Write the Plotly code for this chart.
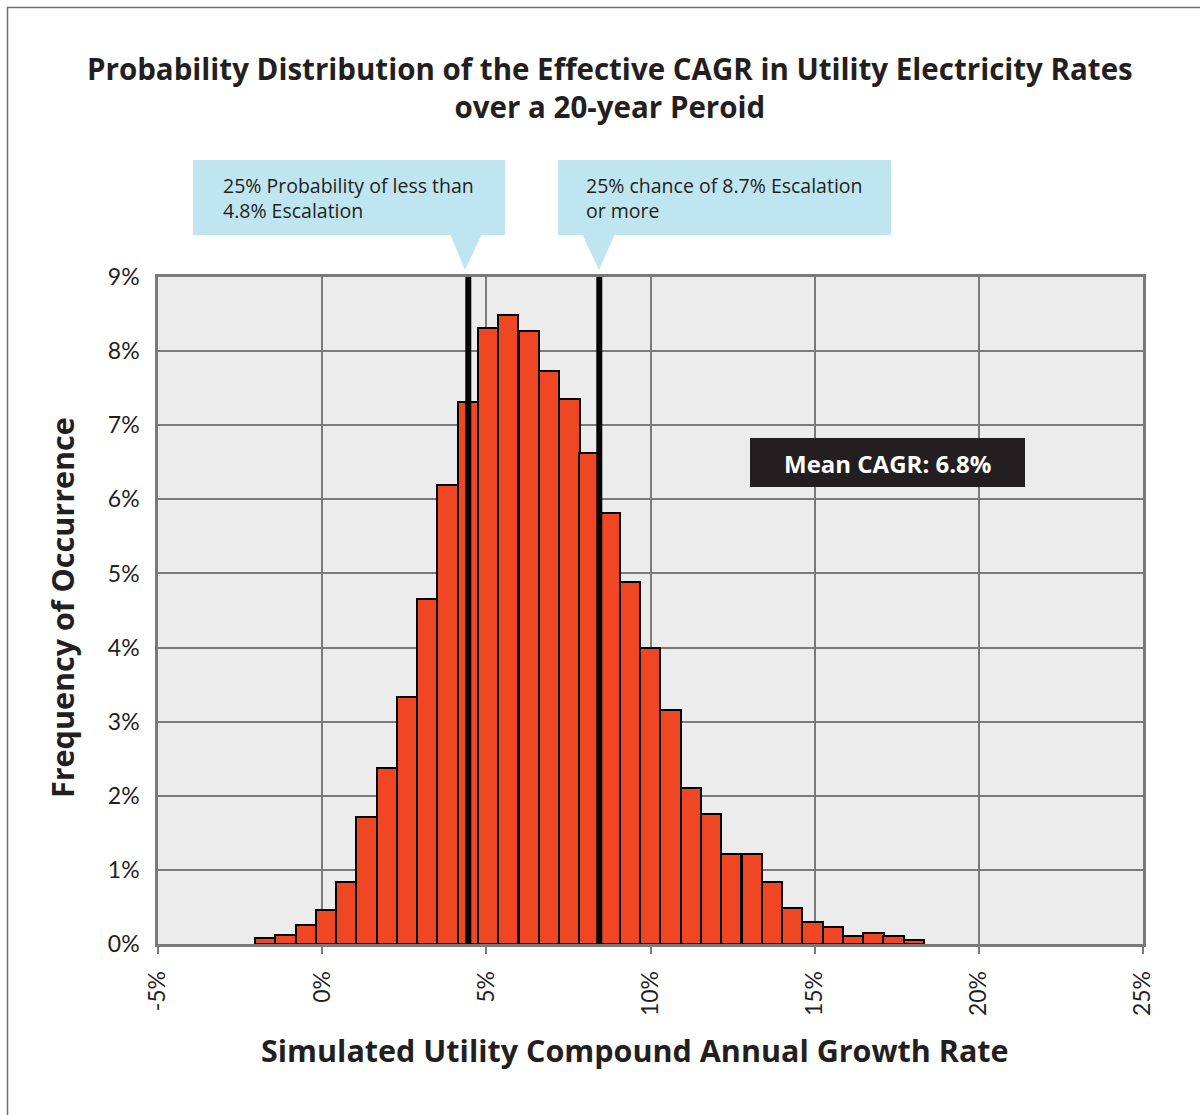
import plotly.graph_objects as go

# ---------------- data ----------------
bin_centers = [-1.74, -1.12, -0.50, 0.12, 0.73, 1.35, 1.97, 2.59, 3.20, 3.82,
               4.44, 5.06, 5.67, 6.29, 6.91, 7.53, 8.14, 8.76, 9.38, 9.99,
               10.61, 11.23, 11.85, 12.46, 13.08, 13.70, 14.32, 14.93, 15.55,
               16.17, 16.79, 17.40, 18.02]
frequency_pct = [0.08, 0.12, 0.26, 0.46, 0.83, 1.72, 2.38, 3.33, 4.66, 6.19,
                 7.31, 8.31, 8.49, 8.27, 7.73, 7.35, 6.63, 5.82, 4.89, 3.99,
                 3.16, 2.10, 1.75, 1.22, 1.22, 0.83, 0.48, 0.30, 0.23, 0.11,
                 0.15, 0.11, 0.05]
bin_width = 0.617
quartile_lines = [4.45, 8.44]   # drawn 25th / 75th percentile markers
x_tickvals = [-5, 0, 5, 10, 15, 20, 25]
x_ticktext = ["-5%", "0%", "5%", "10%", "15%", "20%", "25%"]
y_tickvals = [0, 1, 2, 3, 4, 5, 6, 7, 8, 9]
y_ticktext = ["0%", "1%", "2%", "3%", "4%", "5%", "6%", "7%", "8%", "9%"]

title_lines = ["Probability Distribution of the Effective CAGR in Utility Electricity Rates",
               "over a 20-year Peroid"]
callout_low = ["25% Probability of less than", "4.8% Escalation"]
callout_high = ["25% chance of 8.7% Escalation", "or more"]
mean_label = "Mean CAGR: 6.8%"
x_title = "Simulated Utility Compound Annual Growth Rate"
y_title = "Frequency of Occurrence"

# ---------------- layout geometry ----------------
W, H = 1200, 1115
L, R, T, B = 158, 1143, 277, 944
def px(xp):
    return (xp - L) / (R - L)
def py(yp):
    return (B - yp) / (B - T)

TXT = "#231f20"
GRID = "#7a7a7a"
BLUE = "#bfe5f0"
BOLD_FONT = "Open Sans"

fig = go.Figure()
fig.add_trace(go.Bar(
    x=bin_centers, y=frequency_pct, width=bin_width,
    marker=dict(color="#ef4623", line=dict(color="#000000", width=2)),
    hoverinfo="x+y", showlegend=False,
))

shapes = []
for q in quartile_lines:
    shapes.append(dict(type="line", xref="x", yref="y", x0=q, x1=q, y0=0, y1=9,
                       line=dict(color="#050505", width=6), layer="above"))
shapes.append(dict(type="rect", xref="paper", yref="paper",
                   x0=px(193), x1=px(505), y0=py(235), y1=py(160),
                   fillcolor=BLUE, line=dict(width=0)))
shapes.append(dict(type="path", xref="paper", yref="paper",
                   path=f"M {px(450)} {py(234)} L {px(482)} {py(234)} L {px(465)} {py(270)} Z",
                   fillcolor=BLUE, line=dict(width=0)))
shapes.append(dict(type="rect", xref="paper", yref="paper",
                   x0=px(558), x1=px(891), y0=py(235), y1=py(160),
                   fillcolor=BLUE, line=dict(width=0)))
shapes.append(dict(type="path", xref="paper", yref="paper",
                   path=f"M {px(582)} {py(234)} L {px(615)} {py(234)} L {px(599)} {py(270)} Z",
                   fillcolor=BLUE, line=dict(width=0)))
shapes.append(dict(type="rect", xref="paper", yref="paper",
                   x0=px(750), x1=px(1025), y0=py(487), y1=py(438),
                   fillcolor="#231f20", line=dict(width=0)))
shapes.append(dict(type="path", xref="paper", yref="paper",
                   path=f"M {px(7.5)} {py(1120)} L {px(7.5)} {py(7.5)} L {px(1205)} {py(7.5)}",
                   line=dict(color="#6d6e70", width=1.5)))

annotations = []
annotations.append(dict(xref="paper", yref="paper", x=px(610), y=py(87),
                        xanchor="center", yanchor="middle", showarrow=False,
                        text="<br>".join(title_lines),
                        font=dict(family=BOLD_FONT, size=29.5, color=TXT, weight="bold")))
annotations.append(dict(xref="paper", yref="paper", x=px(221), y=py(198),
                        xanchor="left", yanchor="middle", showarrow=False, align="left",
                        text="<br>".join(callout_low),
                        font=dict(family="Open Sans", size=19.5, color=TXT)))
annotations.append(dict(xref="paper", yref="paper", x=px(584), y=py(198),
                        xanchor="left", yanchor="middle", showarrow=False, align="left",
                        text="<br>".join(callout_high),
                        font=dict(family="Open Sans", size=19.5, color=TXT)))
annotations.append(dict(xref="paper", yref="paper", x=px(887), y=py(463),
                        xanchor="center", yanchor="middle", showarrow=False,
                        text=mean_label,
                        font=dict(family=BOLD_FONT, size=24, color="#ffffff", weight="bold")))
annotations.append(dict(xref="paper", yref="paper", x=px(635), y=py(1050),
                        xanchor="center", yanchor="middle", showarrow=False,
                        text=x_title,
                        font=dict(family=BOLD_FONT, size=30.5, color=TXT, weight="bold")))
annotations.append(dict(xref="paper", yref="paper", x=px(62), y=py(608),
                        xanchor="center", yanchor="middle", showarrow=False, textangle=-90,
                        text=y_title,
                        font=dict(family=BOLD_FONT, size=30.5, color=TXT, weight="bold")))

fig.update_layout(
    width=W, height=H,
    margin=dict(l=L, r=W - R, t=T, b=H - B, pad=0),
    paper_bgcolor="#ffffff", plot_bgcolor="#ebeceb",
    bargap=0, showlegend=False,
    shapes=shapes, annotations=annotations,
    xaxis=dict(range=[-5, 25], tickvals=x_tickvals, ticktext=x_ticktext,
               tickangle=-90, tickfont=dict(family="Lato", size=23, color=TXT),
               showgrid=True, gridcolor=GRID, gridwidth=2,
               showline=True, linecolor=GRID, linewidth=2.5, mirror=True,
               ticks="outside", ticklen=7, tickwidth=2, tickcolor=GRID,
               ticklabelstandoff=8, zeroline=False, fixedrange=True),
    yaxis=dict(range=[0, 9], tickvals=y_tickvals, ticktext=y_ticktext,
               tickfont=dict(family="Lato", size=23, color=TXT),
               showgrid=True, gridcolor=GRID, gridwidth=2,
               showline=True, linecolor=GRID, linewidth=2.5, mirror=True,
               ticks="", ticklabelstandoff=11, zeroline=False, fixedrange=True),
)

fig.write_html("out.html", config={"displayModeBar": False},
               post_script="document.body.style.margin='0';")
